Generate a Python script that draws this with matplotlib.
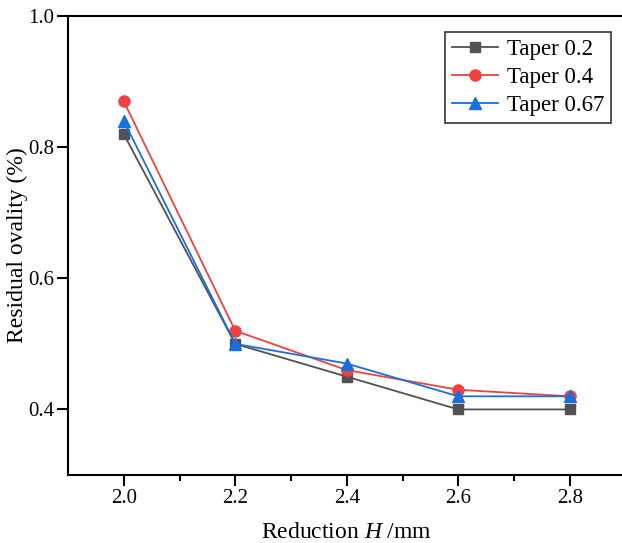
import numpy as np
import matplotlib.pyplot as plt
from matplotlib.ticker import MultipleLocator

plt.rcParams['font.family'] = ['Liberation Serif', 'DejaVu Serif']
plt.rcParams['mathtext.fontset'] = 'custom'
plt.rcParams['mathtext.it'] = 'Liberation Serif:italic'
plt.rcParams['mathtext.rm'] = 'Liberation Serif'

reduction = [2.0, 2.2, 2.4, 2.6, 2.8]
taper_02 = [0.82, 0.50, 0.45, 0.40, 0.40]
taper_04 = [0.87, 0.52, 0.46, 0.43, 0.42]
taper_067 = [0.84, 0.50, 0.47, 0.42, 0.42]
labels = ['Taper 0.2', 'Taper 0.4', 'Taper 0.67']

fig = plt.figure(figsize=(6.22, 5.43), dpi=100)
ax = fig.add_axes([68 / 622, 68 / 543, 557.5 / 622, 459 / 543])

ax.plot(reduction, taper_02, color='#515151', marker='s', markersize=7, lw=1.3, label=labels[0])
ax.plot(reduction, taper_04, color='#F14040', marker='o', markersize=8, lw=1.3, label=labels[1])
ax.plot(reduction, taper_067, color='#1A6FDF', marker='^', markersize=8, lw=1.3, label=labels[2])

ax.set_xlim(1.9, 2.9)
ax.set_ylim(0.3, 1.0)
ax.set_xticks([2.0, 2.2, 2.4, 2.6, 2.8])
ax.set_xticks([2.1, 2.3, 2.5, 2.7], minor=True)
ax.set_yticks([0.4, 0.6, 0.8, 1.0])
ax.tick_params(axis='both', which='major', direction='out', length=8, width=1.5, labelsize=15, pad=2)
ax.tick_params(axis='x', which='minor', direction='out', length=4.5, width=1.5)
for s in ax.spines.values():
    s.set_linewidth(1.5)

ax.set_xlabel('Reduction $\\mathit{H}$ /mm', fontsize=17, labelpad=10)
ax.set_ylabel('Residual ovality (%)', fontsize=17, labelpad=0)

leg = ax.legend(loc='upper right', bbox_to_anchor=(0.974, 0.965), fontsize=16.5, frameon=True,
                fancybox=False, edgecolor='black', handlelength=2.0, borderpad=0.3,
                labelspacing=0.3, handletextpad=0.4, borderaxespad=0)
leg.get_frame().set_linewidth(1.2)

fig.savefig('out.png', dpi=100)
